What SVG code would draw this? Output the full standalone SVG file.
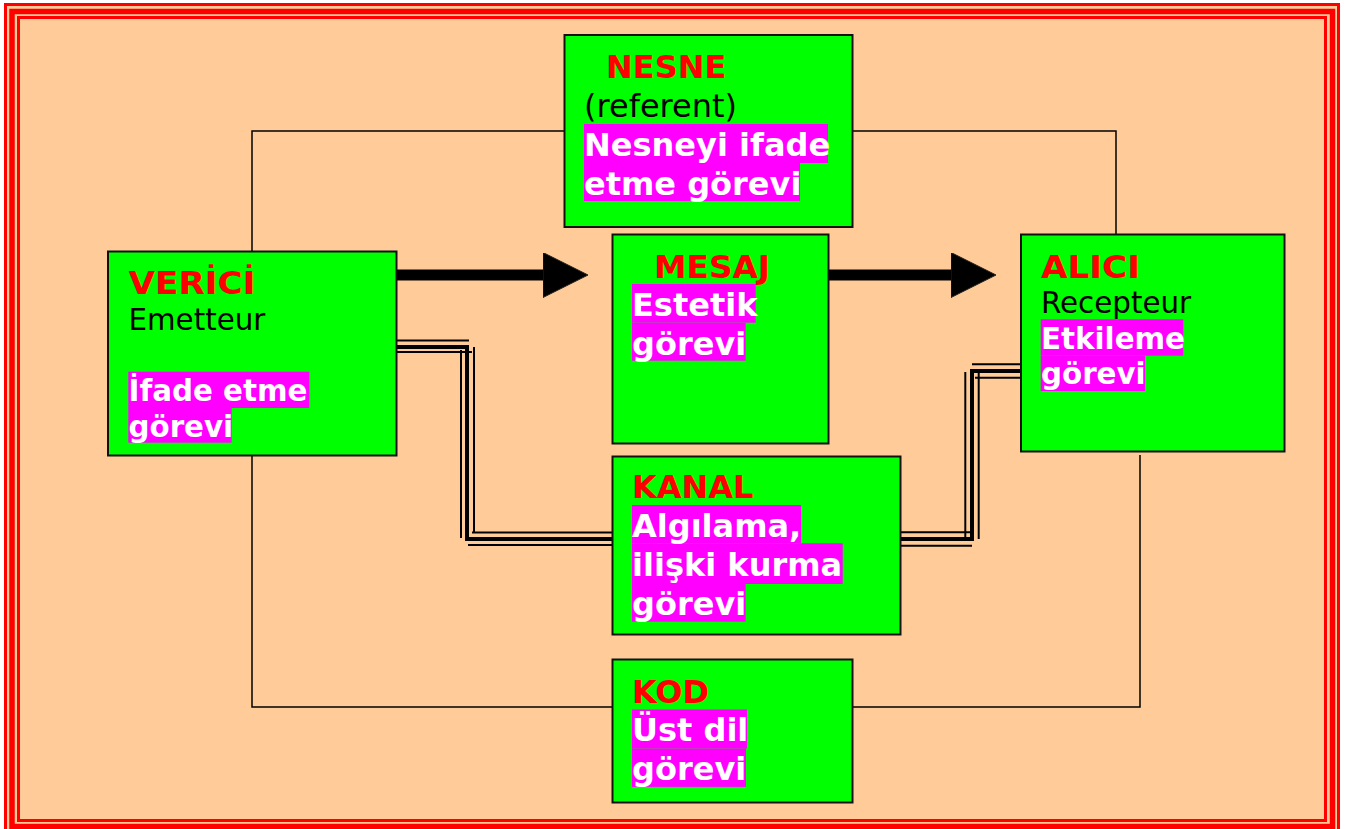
<svg xmlns="http://www.w3.org/2000/svg" width="1353" height="829" viewBox="0 0 1353 829">
<style>
.box{fill:#00FF00;stroke:#111;stroke-width:2}
.t{font-family:"DejaVu Sans",Verdana,sans-serif}
.s24{font-size:32px}
.s22{font-size:29.33px}
.title{fill:#FF0000;font-weight:bold}
.sub{fill:#000}
.hl{fill:#FF00FF}
.ht{fill:#FFFFFF;font-weight:bold}
.thin{fill:none;stroke:#000;stroke-width:1.5}
.tl{fill:none;stroke:#000;stroke-width:2}
.tk{fill:none;stroke:#000;stroke-width:4}
.frame{fill:none;stroke:#FF0000}
</style>
<defs>
<marker id="head" markerUnits="userSpaceOnUse" markerWidth="46" markerHeight="46" viewBox="0 0 46 46" refX="0" refY="22.5" orient="auto">
<polygon points="0,0 45,22.5 0,45" fill="#000" stroke="#222" stroke-width="1"/>
</marker>
</defs>
<rect x="0" y="0" width="1353" height="829" fill="#FFFFFF"/>
<rect x="4" y="3" width="1336" height="830" fill="#FFCC99"/>
<g id="frame">
<rect class="frame" x="5.5" y="4.5" width="1333" height="830" stroke-width="3"/>
<rect class="frame" x="12" y="11.5" width="1320.5" height="815" stroke-width="5.5"/>
<rect class="frame" x="18.5" y="17.5" width="1307" height="803" stroke-width="3"/>
</g>
<g id="connectors">
<polyline class="thin" points="252,251 252,131 564,131"/>
<polyline class="thin" points="852,131 1116,131 1116,234"/>
<polyline class="thin" points="252,456 252,707 612,707"/>
<polyline class="thin" points="852,707 1140,707 1140,455"/>
<path d="M396,275 H543" stroke="#000" stroke-width="11" fill="none" marker-end="url(#head)"/>
<path d="M829,275 H951" stroke="#000" stroke-width="11" fill="none" marker-end="url(#head)"/>
<path class="tk" d="M396,347 H467 V539 H612"/>
<path class="tl" d="M396,340.5 H469"/>
<path class="tl" d="M396,352 H472"/>
<path class="tl" d="M461,350 V538"/>
<path class="tl" d="M474,347 V533"/>
<path class="tl" d="M472,532.5 H612"/>
<path class="tl" d="M468,545 H612"/>
<path class="tk" d="M900,539 H972 V371 H1021"/>
<path class="tl" d="M900,532.3 H970"/>
<path class="tl" d="M900,545.7 H972"/>
<path class="tl" d="M965.3,372 V537"/>
<path class="tl" d="M978.7,373 V539"/>
<path class="tl" d="M972,364.3 H1021"/>
<path class="tl" d="M975,377.7 H1021"/>
</g>
<g id="node-nesne">
<rect class="box" x="564.5" y="35" width="288" height="192"/>
<rect class="hl" x="584" y="124" width="244" height="39"/>
<rect class="hl" x="584" y="163" width="216" height="38"/>
<text class="t s24 title" x="606" y="77.5">NESNE</text>
<text class="t s24 sub" x="584" y="116.5">(referent)</text>
<text class="t s24 ht" x="584" y="155.8">Nesneyi ifade</text>
<text class="t s24 ht" x="584" y="194.6">etme görevi</text>
</g>
<g id="node-verici">
<rect class="box" x="108" y="251.5" width="288.5" height="204"/>
<rect class="hl" x="128.3" y="371.7" width="181" height="36.3"/>
<rect class="hl" x="128.3" y="408" width="103.4" height="34.7"/>
<text class="t s24 title" x="128.5" y="294.4" textLength="127" lengthAdjust="spacingAndGlyphs">VERİCİ</text>
<text class="t s22 sub" x="128.5" y="330">Emetteur</text>
<text class="t s22 ht" x="128.5" y="401.2">İfade etme</text>
<text class="t s22 ht" x="128.5" y="436.8">görevi</text>
</g>
<g id="node-mesaj">
<rect class="box" x="612.5" y="234.5" width="216" height="209"/>
<rect class="hl" x="632" y="284" width="123.7" height="38.7"/>
<rect class="hl" x="632" y="322.7" width="113.7" height="38"/>
<text class="t s24 title" x="654" y="277.5" textLength="116" lengthAdjust="spacingAndGlyphs">MESAJ</text>
<text class="t s24 ht" x="632" y="316.3">Estetik</text>
<text class="t s24 ht" x="632" y="355">görevi</text>
</g>
<g id="node-alici">
<rect class="box" x="1021" y="234.5" width="263.5" height="217"/>
<rect class="hl" x="1040.7" y="319.3" width="142.6" height="36.4"/>
<rect class="hl" x="1040.7" y="355.7" width="104.3" height="35.3"/>
<text class="t s24 title" x="1041" y="277.6" textLength="99" lengthAdjust="spacingAndGlyphs">ALICI</text>
<text class="t s22 sub" x="1041" y="313.2">Recepteur</text>
<text class="t s22 ht" x="1041" y="348.8">Etkileme</text>
<text class="t s22 ht" x="1041" y="384.4">görevi</text>
</g>
<g id="node-kanal">
<rect class="box" x="612.5" y="456.5" width="288" height="178"/>
<rect class="hl" x="632" y="505" width="169" height="38.3"/>
<rect class="hl" x="632" y="543.3" width="210.7" height="40.7"/>
<rect class="hl" x="632" y="584" width="113.7" height="37.7"/>
<text class="t s24 title" x="632" y="498.3">KANAL</text>
<text class="t s24 ht" x="632" y="537.2">Algılama,</text>
<text class="t s24 ht" x="632" y="576.1">ilişki kurma</text>
<text class="t s24 ht" x="632" y="615">görevi</text>
</g>
<g id="node-kod">
<rect class="box" x="612.5" y="659.5" width="240" height="143"/>
<rect class="hl" x="632" y="709.5" width="115" height="38.9"/>
<rect class="hl" x="632" y="748.4" width="114" height="38.5"/>
<text class="t s24 title" x="632" y="702.5">KOD</text>
<text class="t s24 ht" x="632" y="741.4">Üst dil</text>
<text class="t s24 ht" x="632" y="780.3">görevi</text>
</g>
</svg>
